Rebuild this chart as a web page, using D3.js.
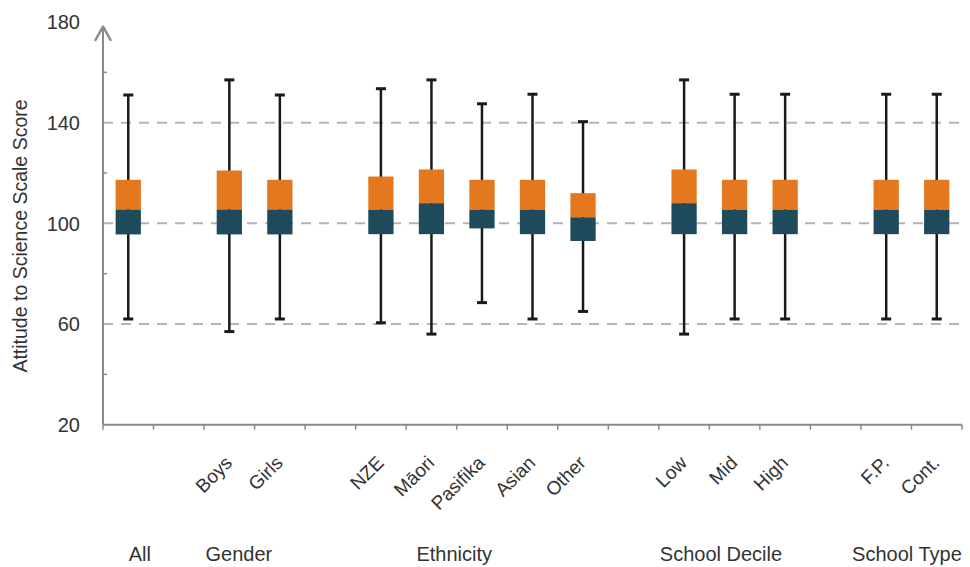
<!DOCTYPE html>
<html>
<head>
<meta charset="utf-8">
<script src="https://cdn.jsdelivr.net/npm/d3@7"></script>
<style>
  html, body { margin: 0; padding: 0; background: #fff; }
  svg { display: block; font-family: "Liberation Sans", Arial, sans-serif; }
</style>
</head>
<body>
<svg id="chart" width="970" height="567"></svg>
<script>
// ---- data ----
const categories = ["All", "Boys", "Girls", "NZE", "Māori", "Pasifika", "Asian", "Other", "Low", "Mid", "High", "F.P.", "Cont."];
const groupNames = ["All", "Gender", "Ethnicity", "School Decile", "School Type"];
const groupMembers = [["All"], ["Boys", "Girls"], ["NZE", "Māori", "Pasifika", "Asian", "Other"], ["Low", "Mid", "High"], ["F.P.", "Cont."]];
const whiskerLow  = [62, 57, 62, 60.5, 56, 68.5, 62, 65, 56, 62, 62, 62, 62];
const quartile1   = [95.6, 95.6, 95.6, 95.7, 95.7, 98, 95.7, 93, 95.7, 95.7, 95.7, 95.7, 95.7];
const medians     = [105.5, 105.5, 105.5, 105.4, 108, 105.4, 105.4, 102.4, 108, 105.4, 105.4, 105.4, 105.4];
const quartile3   = [117.3, 121, 117.3, 118.6, 121.4, 117.3, 117.3, 112, 121.4, 117.3, 117.3, 117.3, 117.3];
const whiskerHigh = [151, 157, 151, 153.5, 157, 147.5, 151.3, 140.4, 157, 151.3, 151.3, 151.3, 151.3];
const yTicks = [20, 60, 100, 140, 180];
const yMinorTicks = [40, 80, 120, 160];
const gridValues = [60, 100, 140];
const yTitle = "Attitude to Science Scale Score";

// ---- layout ----
const X0 = 103, X1 = 962, Y0 = 424.7, Y1 = 22;
const groupLabelCenter = [0.73, 2.69, 6.95, 12.23, 15.91]; // in slot units
const colors = { upper: "#E3781E", lower: "#1E4A5B", whisker: "#1a1a1a", axis: "#8a8a8a", grid: "#b5b5b5", text: "#333" };

// build slot list with a gap between groups
const slots = [];
groupMembers.forEach((m, gi) => {
  if (gi > 0) slots.push("gap" + gi);
  m.forEach(c => slots.push(c));
});

const svg = d3.select("#chart");
const x = d3.scaleBand().domain(slots).range([X0, X1]).padding(0);
const y = d3.scaleLinear().domain([20, 180]).range([Y0, Y1]);
const step = x.step();
const bw = step * 0.5;

// gridlines
svg.append("g").selectAll("line").data(gridValues).join("line")
  .attr("x1", X0).attr("x2", X1)
  .attr("y1", d => y(d)).attr("y2", d => y(d))
  .attr("stroke", colors.grid).attr("stroke-width", 2)
  .attr("stroke-dasharray", "10,8");

// x axis
const xTickPos = slots.map(s => x(s)).concat([X1]);
const gx = svg.append("g");
gx.append("line").attr("x1", X0).attr("x2", X1).attr("y1", Y0).attr("y2", Y0)
  .attr("stroke", colors.axis).attr("stroke-width", 2);
gx.selectAll("line.t").data(xTickPos).join("line").attr("class", "t")
  .attr("x1", d => d).attr("x2", d => d).attr("y1", Y0).attr("y2", Y0 + 5)
  .attr("stroke", colors.axis).attr("stroke-width", 1.5);

// y axis
const gy = svg.append("g");
gy.append("line").attr("x1", X0).attr("x2", X0).attr("y1", Y0).attr("y2", 26)
  .attr("stroke", colors.axis).attr("stroke-width", 2);
gy.append("path").attr("d", `M${X0 - 7.5},40 L${X0},26.5 L${X0 + 7.5},40`)
  .attr("fill", "none").attr("stroke", colors.axis).attr("stroke-width", 2.5)
  .attr("stroke-linecap", "round").attr("stroke-linejoin", "round");
gy.selectAll("line.m").data(yMinorTicks).join("line").attr("class", "m")
  .attr("x1", X0).attr("x2", X0 + 4).attr("y1", d => y(d)).attr("y2", d => y(d))
  .attr("stroke", colors.axis).attr("stroke-width", 1.5);
gy.selectAll("text").data(yTicks).join("text")
  .attr("x", 80).attr("y", d => y(d)).attr("dy", "0.36em")
  .attr("text-anchor", "end").attr("font-size", 20).attr("fill", colors.text)
  .text(d => d);

svg.append("text")
  .attr("transform", `translate(27,236) rotate(-90)`)
  .attr("text-anchor", "middle").attr("font-size", 19.5).attr("fill", colors.text)
  .text(yTitle);

// boxes
const data = categories.map((c, i) => ({
  c, lo: whiskerLow[i], q1: quartile1[i], med: medians[i], q3: quartile3[i], hi: whiskerHigh[i]
}));
const cx = d => x(d.c) + step / 2;
const gb = svg.append("g");
gb.selectAll("line.w").data(data).join("line").attr("class", "w")
  .attr("x1", cx).attr("x2", cx).attr("y1", d => y(d.lo)).attr("y2", d => y(d.hi))
  .attr("stroke", colors.whisker).attr("stroke-width", 2.5);
gb.selectAll("line.ch").data(data).join("line").attr("class", "ch")
  .attr("x1", d => cx(d) - 5).attr("x2", d => cx(d) + 5)
  .attr("y1", d => y(d.hi)).attr("y2", d => y(d.hi))
  .attr("stroke", colors.whisker).attr("stroke-width", 3);
gb.selectAll("line.cl").data(data).join("line").attr("class", "cl")
  .attr("x1", d => cx(d) - 5).attr("x2", d => cx(d) + 5)
  .attr("y1", d => y(d.lo)).attr("y2", d => y(d.lo))
  .attr("stroke", colors.whisker).attr("stroke-width", 3);
gb.selectAll("rect.u").data(data).join("rect").attr("class", "u")
  .attr("x", d => cx(d) - bw / 2).attr("width", bw)
  .attr("y", d => y(d.q3)).attr("height", d => y(d.med) - y(d.q3))
  .attr("fill", colors.upper);
gb.selectAll("rect.l").data(data).join("rect").attr("class", "l")
  .attr("x", d => cx(d) - bw / 2).attr("width", bw)
  .attr("y", d => y(d.med)).attr("height", d => y(d.q1) - y(d.med))
  .attr("fill", colors.lower);

// category labels (skip "All", which is only a group label)
svg.append("g").selectAll("text").data(categories.filter(c => c !== "All")).join("text")
  .attr("transform", c => `translate(${x(c) + step / 2 + 4},464) rotate(-45)`)
  .attr("text-anchor", "end").attr("font-size", 19).attr("fill", colors.text)
  .text(c => c);

// group labels
svg.append("g").selectAll("text").data(groupNames).join("text")
  .attr("x", (g, i) => X0 + groupLabelCenter[i] * step)
  .attr("y", 561)
  .attr("text-anchor", "middle").attr("font-size", 20).attr("fill", colors.text)
  .text(g => g);
</script>
</body>
</html>
